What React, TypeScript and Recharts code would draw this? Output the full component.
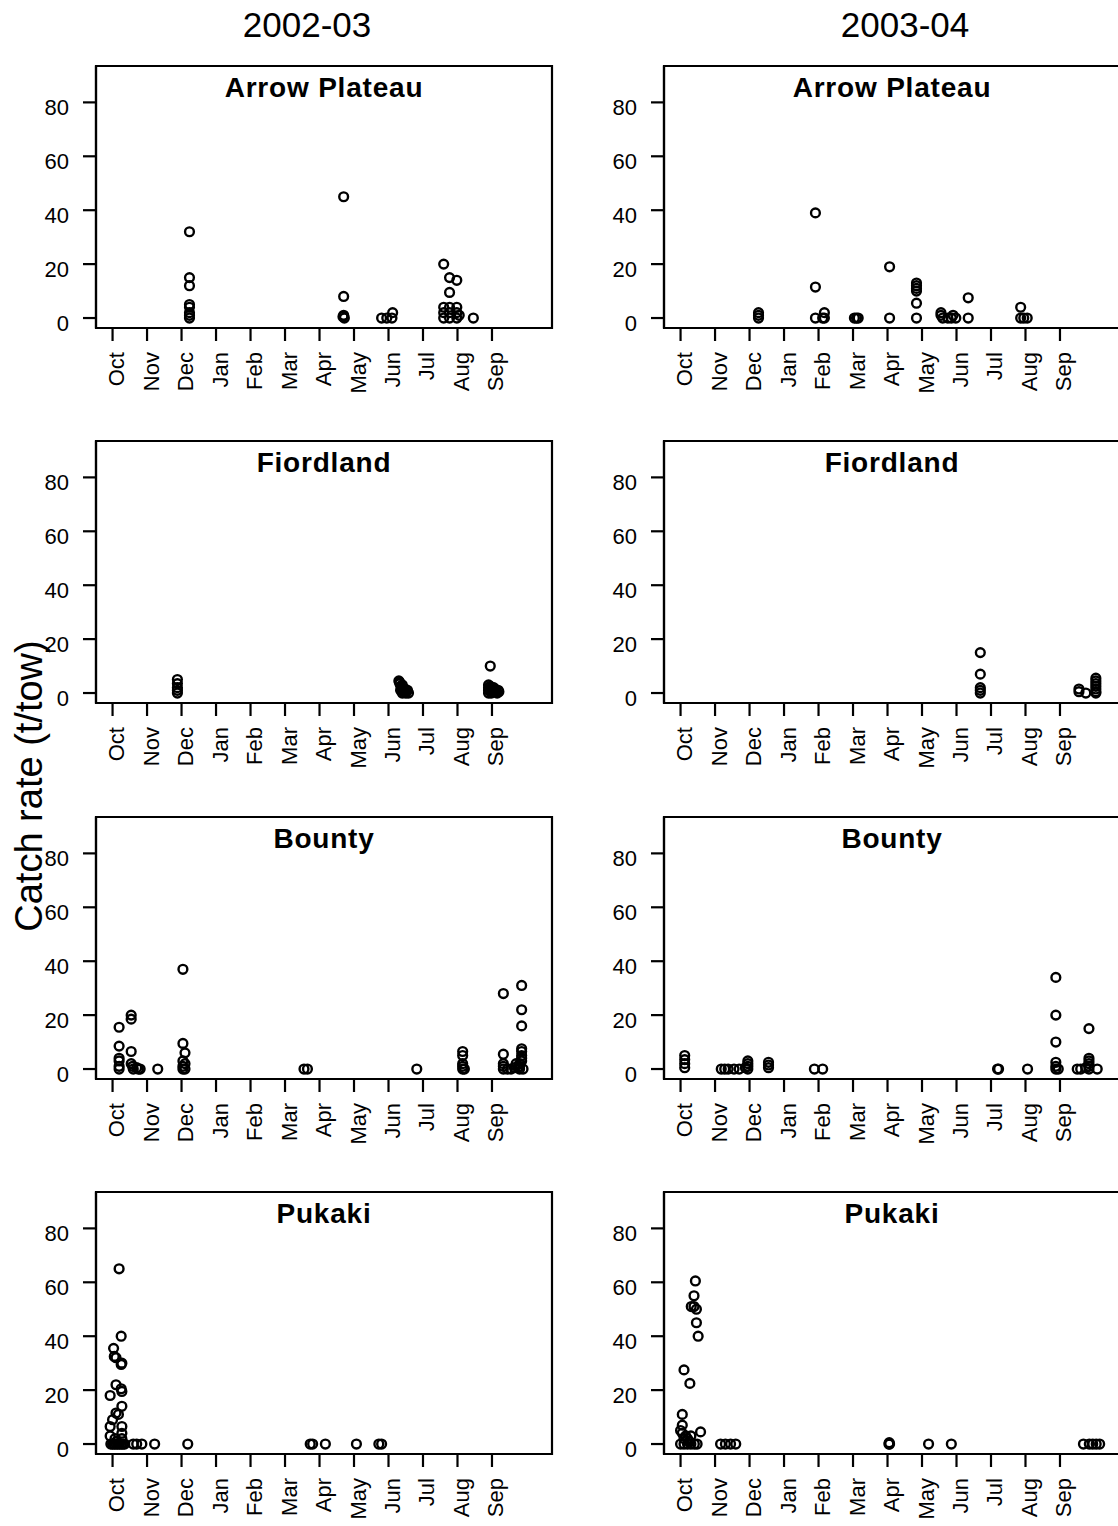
import React from "react"
import { ScatterChart, Scatter, XAxis, YAxis, ReferenceArea } from "recharts"

type Pt = [number, number]

// x = month index from Oct (0) to Sep (11), y = catch rate (t/tow)
const months = ["Oct", "Nov", "Dec", "Jan", "Feb", "Mar", "Apr", "May", "Jun", "Jul", "Aug", "Sep"]
const monthTicks = [0, 1, 2, 3, 4, 5, 6, 7, 8, 9, 10, 11]
const rateTicks = [0, 20, 40, 60, 80]
const seasons = ["2002-03", "2003-04"]
const grounds = ["Arrow Plateau", "Fiordland", "Bounty", "Pukaki"]

const arrow0203: Pt[] = [
  [2.23, 32], [2.23, 15], [2.23, 12], [2.23, 5], [2.23, 4], [2.23, 2], [2.23, 1], [2.23, 0],
  [6.7, 45], [6.7, 8], [6.7, 1], [6.68, 0.5], [6.72, 0],
  [7.8, 0], [7.95, 0], [8.1, 0], [8.12, 2],
  [9.6, 20], [9.77, 15], [9.98, 14], [9.77, 9.5], [9.6, 4], [9.6, 2], [9.6, 0],
  [9.77, 4], [9.77, 2], [9.77, 0], [9.98, 4], [9.98, 2], [9.98, 0], [10.05, 1], [10.46, 0],
]

const arrow0304: Pt[] = [
  [2.26, 2], [2.26, 1], [2.26, 0],
  [3.91, 39], [3.91, 11.5], [3.91, 0], [4.17, 2], [4.17, 0], [4.12, 0],
  [5.04, 0], [5.1, 0], [5.15, 0],
  [6.06, 19], [6.06, 0],
  [6.84, 13], [6.84, 12], [6.84, 11], [6.84, 10], [6.84, 5.5], [6.84, 0],
  [7.55, 2], [7.55, 1], [7.6, 0], [7.75, 0], [7.85, 0], [7.98, 0], [7.9, 1],
  [8.34, 7.5], [8.34, 0],
  [9.86, 4], [9.86, 0], [9.95, 0], [10.05, 0],
]

const fiord0203: Pt[] = [
  [1.88, 5], [1.88, 3.5], [1.88, 2], [1.88, 1], [1.88, 0],
  [8.3, 4.5], [8.33, 3.5], [8.36, 2.5], [8.4, 3], [8.42, 1.5], [8.45, 0.5], [8.5, 0],
  [8.55, 1], [8.58, 0], [8.35, 1], [8.4, 0], [8.32, 4], [8.38, 2], [8.48, 1.5], [8.52, 0.5],
  [10.95, 10], [10.9, 3], [10.9, 2], [10.9, 1], [10.9, 0], [10.95, 2.5], [11, 1.5],
  [11.05, 0.5], [11.1, 1], [11.15, 0], [11.2, 0.5], [10.98, 0], [11.05, 2],
  [10.93, 1.5], [11.02, 0.5], [11.08, 1.5], [11.12, 0.5], [11.18, 1],
]

const fiord0304: Pt[] = [
  [8.69, 15], [8.69, 7], [8.69, 2], [8.69, 1], [8.69, 0],
  [11.55, 1.5], [11.55, 0.5], [11.75, 0],
  [12.04, 5.5], [12.04, 4.5], [12.04, 3.5], [12.04, 2.5], [12.04, 1.5], [12.04, 0.5], [12.04, 0],
]

const bounty0203: Pt[] = [
  [0.19, 15.5], [0.19, 8.5], [0.19, 4], [0.19, 3], [0.19, 1], [0.19, 0],
  [0.54, 20], [0.54, 18.5], [0.54, 6.5], [0.54, 2], [0.58, 1], [0.6, 0], [0.7, 0.5], [0.75, 0], [0.8, 0],
  [1.31, 0],
  [2.04, 37], [2.04, 9.5], [2.1, 6], [2.04, 3], [2.1, 2], [2.04, 1], [2.04, 0], [2.1, 0],
  [5.55, 0], [5.65, 0],
  [8.82, 0],
  [10.15, 6.5], [10.15, 5], [10.15, 2], [10.15, 1], [10.15, 0], [10.2, 0],
  [11.33, 28], [11.33, 5.5], [11.33, 2], [11.33, 1], [11.33, 0], [11.45, 0], [11.55, 0], [11.65, 0.5], [11.7, 2],
  [11.86, 31], [11.86, 22], [11.86, 16], [11.86, 7.5], [11.86, 6.5], [11.86, 5], [11.86, 4],
  [11.86, 3], [11.8, 2], [11.8, 1], [11.8, 0], [11.9, 0], [11.75, 0.5],
]

const bounty0304: Pt[] = [
  [0.12, 5], [0.12, 3.5], [0.12, 2], [0.12, 0.5],
  [1.18, 0], [1.28, 0], [1.38, 0], [1.55, 0], [1.7, 0], [1.88, 0.5],
  [1.95, 3], [1.95, 2], [1.95, 1], [1.95, 0],
  [2.55, 2.5], [2.55, 1.5], [2.55, 0.5],
  [3.88, 0], [4.12, 0],
  [9.19, 0], [9.22, 0],
  [10.06, 0],
  [10.88, 34], [10.88, 20], [10.88, 10], [10.88, 2.5], [10.88, 1], [10.88, 0], [10.95, 0],
  [11.5, 0], [11.6, 0],
  [11.84, 15], [11.84, 4], [11.84, 3], [11.84, 2], [11.84, 1], [11.84, 0], [12.08, 0], [11.75, 0.5],
]

const pukaki0203: Pt[] = [
  [0.19, 65], [0.25, 40], [0.03, 35.5], [0.05, 32.5], [0.1, 32], [0.27, 30], [0.25, 29.5],
  [0.1, 22], [0.25, 20.5], [0.27, 19.5], [-0.07, 18], [0.27, 14], [0.17, 11], [0.1, 11.5],
  [0, 9], [-0.07, 6.5], [0.27, 6.5], [-0.07, 3], [0.27, 4], [0.07, 2], [0.27, 2], [0.12, 1],
  [-0.05, 0], [0, 0], [0.05, 0], [0.1, 0], [0.15, 0], [0.2, 0], [0.25, 0], [0.3, 0], [0.35, 0],
  [0.6, 0], [0.7, 0], [0.85, 0], [1.22, 0],
  [2.18, 0],
  [5.73, 0], [5.8, 0], [6.17, 0],
  [7.07, 0], [7.72, 0], [7.8, 0],
]

const pukaki0304: Pt[] = [
  [0.43, 60.5], [0.39, 55], [0.39, 51], [0.31, 51], [0.46, 50], [0.46, 45], [0.51, 40],
  [0.1, 27.5], [0.27, 22.5], [0.05, 11], [0.05, 7], [0, 5], [0.05, 4], [0.58, 4.5],
  [0.15, 3], [0.3, 3], [0.2, 2], [0.1, 2], [0.25, 1],
  [0, 0], [0.1, 0], [0.2, 0], [0.3, 0], [0.4, 0], [0.48, 0],
  [1.16, 0], [1.3, 0], [1.45, 0], [1.6, 0],
  [6.04, 0], [6.05, 0.5], [6.06, 0],
  [7.19, 0], [7.85, 0],
  [11.68, 0], [11.85, 0], [11.95, 0], [12.05, 0], [12.15, 0],
]

// [row][col]
const panels: Pt[][][] = [
  [arrow0203, arrow0304],
  [fiord0203, fiord0304],
  [bounty0203, bounty0304],
  [pukaki0203, pukaki0304],
]

const FONT = "'Liberation Sans', Arial, sans-serif"
const XMIN = -0.48
const XMAX = 12.74
const YMIN = -3.7
const YMAX = 93.5
const PLOT_W = 456
const PLOT_H = 262
const AXIS_W = 96
const TOP = 4
const X_AXIS_H = 80
const colLeft = [96, 664]
const rowTop = [66, 441, 817, 1192]
const headerX = [307, 905]

const MonthTick = (p: any) => {
  const x = p.x + 4
  const y = p.y
  return (
    <text
      x={x}
      y={y}
      transform={`rotate(-90 ${x} ${y})`}
      textAnchor="end"
      dominantBaseline="central"
      fontSize={22}
      fontFamily={FONT}
      fill="#000"
    >
      {months[p.payload.value]}
    </text>
  )
}

const RateTick = (p: any) => (
  <text
    x={p.x}
    y={p.y + 5}
    textAnchor="end"
    dominantBaseline="central"
    fontSize={22}
    fontFamily={FONT}
    fill="#000"
  >
    {p.payload.value}
  </text>
)

const Ring = (p: any) => (
  <circle cx={p.cx} cy={p.cy} r={4.4} fill="none" stroke="#000" strokeWidth={2.4} />
)

const Panel = ({ pts, row, col }: { pts: Pt[]; row: number; col: number }) => {
  const data = pts.map(([x, y]) => ({ x, y }))
  return (
    <div style={{ position: "absolute", left: colLeft[col] - AXIS_W, top: rowTop[row] - TOP }}>
      <ScatterChart
        width={AXIS_W + PLOT_W + 4}
        height={TOP + PLOT_H + X_AXIS_H}
        margin={{ top: TOP, right: 4, left: 0, bottom: 0 }}
      >
        <XAxis
          type="number"
          dataKey="x"
          domain={[XMIN, XMAX]}
          ticks={monthTicks}
          interval={0}
          allowDataOverflow
          height={X_AXIS_H}
          tickSize={13}
          tickMargin={11}
          axisLine={{ stroke: "#000", strokeWidth: 2.2 }}
          tickLine={{ stroke: "#000", strokeWidth: 2.2 }}
          tick={MonthTick}
        />
        <YAxis
          type="number"
          dataKey="y"
          domain={[YMIN, YMAX]}
          ticks={rateTicks}
          interval={0}
          allowDataOverflow
          width={AXIS_W}
          tickSize={13}
          tickMargin={14}
          axisLine={{ stroke: "#000", strokeWidth: 2.2 }}
          tickLine={{ stroke: "#000", strokeWidth: 2.2 }}
          tick={RateTick}
        />
        <ReferenceArea
          x1={XMIN}
          x2={XMAX}
          y1={YMIN}
          y2={YMAX}
          fill="none"
          stroke="#000"
          strokeWidth={2.2}
          ifOverflow="visible"
        />
        <Scatter data={data} isAnimationActive={false} shape={Ring} />
      </ScatterChart>
    </div>
  )
}

export default function App() {
  return (
    <div
      style={{
        position: "absolute",
        left: 0,
        top: 0,
        width: 1118,
        height: 1526,
        overflow: "hidden",
        background: "#fff",
        fontFamily: FONT,
      }}
    >
      {panels.map((rowPanels, r) =>
        rowPanels.map((pts, c) => <Panel key={`${r}-${c}`} pts={pts} row={r} col={c} />)
      )}
      <svg
        width={1118}
        height={1526}
        style={{ position: "absolute", left: 0, top: 0, pointerEvents: "none" }}
      >
        {seasons.map((s, c) => (
          <text key={s} x={headerX[c]} y={37} textAnchor="middle" fontSize={35} fontFamily={FONT} fill="#000">
            {s}
          </text>
        ))}
        {grounds.map((g, r) =>
          colLeft.map((left, c) => (
            <text
              key={`${g}-${c}`}
              x={left + PLOT_W / 2}
              y={rowTop[r] + 31}
              textAnchor="middle"
              fontSize={28}
              fontWeight="bold"
              letterSpacing={0.8}
              fontFamily={FONT}
              fill="#000"
            >
              {g}
            </text>
          ))
        )}
        <text
          x={42}
          y={786}
          transform="rotate(-90 42 786)"
          textAnchor="middle"
          fontSize={38}
          fontFamily={FONT}
          fill="#000"
        >
          Catch rate (t/tow)
        </text>
      </svg>
    </div>
  )
}
